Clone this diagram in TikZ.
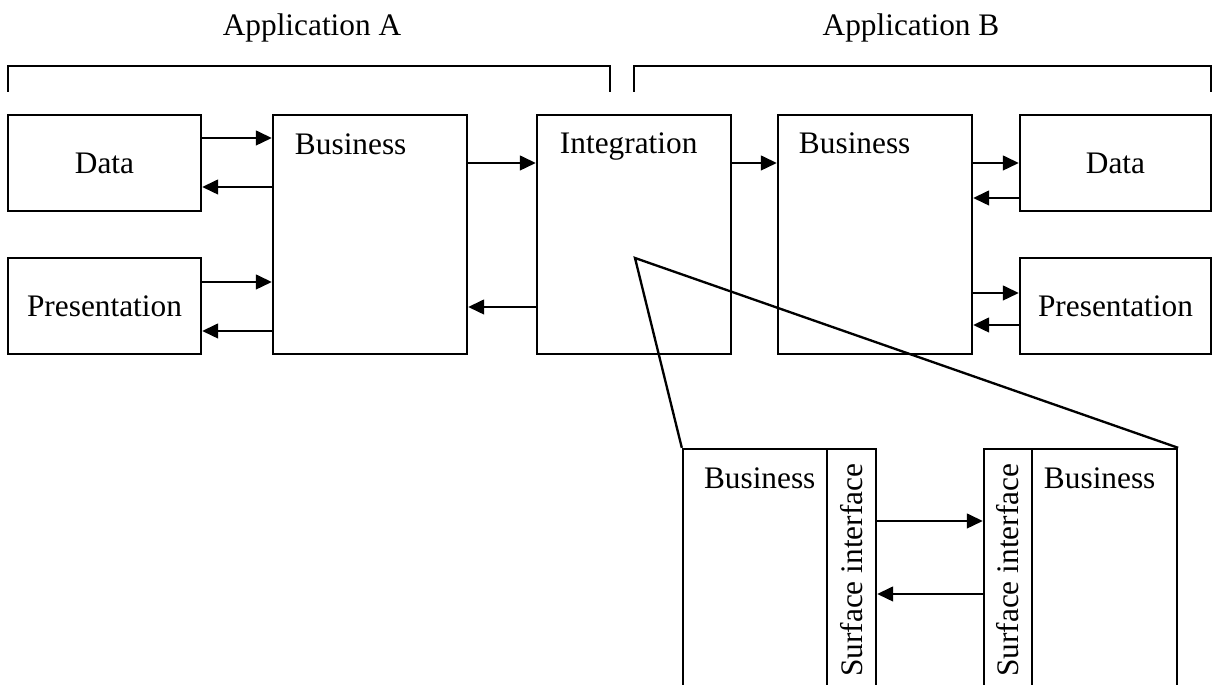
\documentclass[tikz,border=0pt]{standalone}
\usepackage{fontspec}
\setmainfont{Liberation Serif}
\usetikzlibrary{arrows.meta}

\begin{document}
\fontsize{9.4}{11}\selectfont
\begin{tikzpicture}[x=0.3pt,y=-0.3pt,line width=0.7pt,
		box/.style={draw,rectangle,inner sep=0pt},
		lbl/.style={anchor=base west,inner sep=0pt},
		arr/.style={-{Triangle[length=4.8pt,width=4.4pt]}}]
		\useasboundingbox (0,0) rectangle (1212,685);
		\clip (0,0) rectangle (1212,685);
		% Titles over the brackets
		\node[anchor=base] (tA) at (312,36) {Application A};
		\node[anchor=base] (tB) at (911,36) {Application B};
		% Brackets
		\draw (8,92) -- (8,66) -- (610,66) -- (610,92);
		\draw (634,92) -- (634,66) -- (1211,66) -- (1211,92);
		% Application A
		\node[box,minimum width=193*0.3pt,minimum height=96*0.3pt] (dA) at (104.5,163) {Data};
		\node[box,minimum width=193*0.3pt,minimum height=96*0.3pt] (pA) at (104.5,306) {Presentation};
		\node[box,minimum width=194*0.3pt,minimum height=239*0.3pt] (bA) at (370,234.5) {};
		\node[lbl] at ([shift={(22,41)}]bA.north west) {Business};
		% Integration
		\node[box,minimum width=194*0.3pt,minimum height=239*0.3pt] (in) at (634,234.5) {};
		\node[lbl] at ([shift={(23,40)}]in.north west) {Integration};
		% Application B
		\node[box,minimum width=194*0.3pt,minimum height=239*0.3pt] (bB) at (875,234.5) {};
		\node[lbl] at ([shift={(21,40)}]bB.north west) {Business};
		\node[box,minimum width=191*0.3pt,minimum height=96*0.3pt] (dB) at (1115.5,163) {Data};
		\node[box,minimum width=191*0.3pt,minimum height=96*0.3pt] (pB) at (1115.5,306) {Presentation};
		% Arrows of application A
		\draw[arr] (dA.east |- 0,138) -- (bA.west |- 0,138);
		\draw[arr] (bA.west |- 0,187) -- (dA.east |- 0,187);
		\draw[arr] (pA.east |- 0,282) -- (bA.west |- 0,282);
		\draw[arr] (bA.west |- 0,331) -- (pA.east |- 0,331);
		\draw[arr] (bA.east |- 0,163) -- (in.west |- 0,163);
		\draw[arr] (in.west |- 0,307) -- (bA.east |- 0,307);
		% Arrows of application B
		\draw[arr] (in.east |- 0,163) -- (bB.west |- 0,163);
		\draw[arr] (bB.east |- 0,163) -- (dB.west |- 0,163);
		\draw[arr] (dB.west |- 0,198) -- (bB.east |- 0,198);
		\draw[arr] (bB.east |- 0,293) -- (pB.west |- 0,293);
		\draw[arr] (pB.west |- 0,325) -- (bB.east |- 0,325);
		% Detail of the integration
		\node[box,minimum width=144*0.3pt,minimum height=271*0.3pt] (bL) at (755,584.5) {};
		\node[box,minimum width=49*0.3pt,minimum height=271*0.3pt] (sL) at (851.5,584.5) {};
		\node[box,minimum width=48*0.3pt,minimum height=271*0.3pt] (sR) at (1008,584.5) {};
		\node[box,minimum width=145*0.3pt,minimum height=271*0.3pt] (bR) at (1104.5,584.5) {};
		\node[lbl] at ([shift={(21,41)}]bL.north west) {Business};
		\node[lbl] at ([shift={(12,41)}]bR.north west) {Business};
		\node[lbl,rotate=90] at (862,678) {Surface interface};
		\node[lbl,rotate=90] at (1018.5,678) {Surface interface};
		\draw[arr] (sL.east |- 0,521) -- (sR.west |- 0,521);
		\draw[arr] (sR.west |- 0,594) -- (sL.east |- 0,594);
		% Zoom lines
		\coordinate (apex) at (635,258);
		\draw (bL.north west) -- (apex) -- (bR.north east);
\end{tikzpicture}
\end{document}
